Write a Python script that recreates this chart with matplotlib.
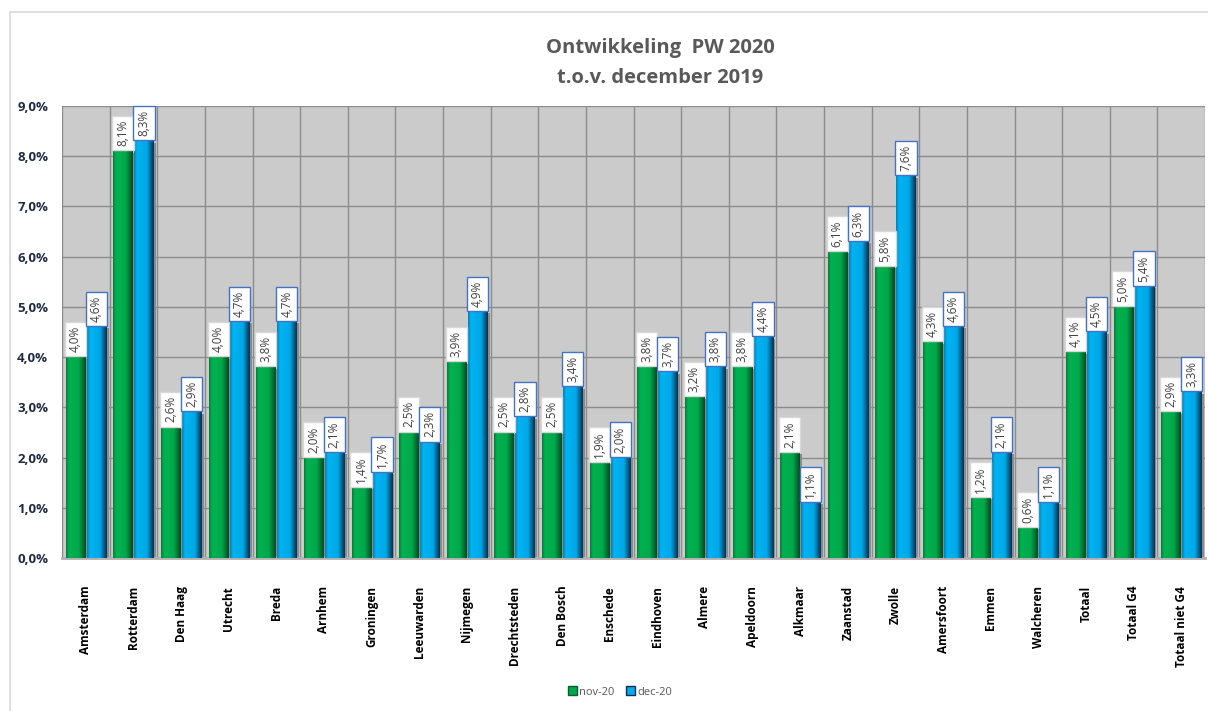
import numpy as np
import matplotlib
matplotlib.use("Agg")
import matplotlib.pyplot as plt
from matplotlib.colors import LinearSegmentedColormap
from matplotlib.patches import Rectangle, Patch

categories = ["Amsterdam", "Rotterdam", "Den Haag", "Utrecht", "Breda", "Arnhem",
              "Groningen", "Leeuwarden", "Nijmegen", "Drechtsteden", "Den Bosch",
              "Enschede", "Eindhoven", "Almere", "Apeldoorn", "Alkmaar", "Zaanstad",
              "Zwolle", "Amersfoort", "Emmen", "Walcheren", "Totaal", "Totaal G4",
              "Totaal niet G4"]
nov20 = [4.0, 8.1, 2.6, 4.0, 3.8, 2.0, 1.4, 2.5, 3.9, 2.5, 2.5, 1.9, 3.8, 3.2,
         3.8, 2.1, 6.1, 5.8, 4.3, 1.2, 0.6, 4.1, 5.0, 2.9]
dec20 = [4.6, 8.3, 2.9, 4.7, 4.7, 2.1, 1.7, 2.3, 4.9, 2.8, 3.4, 2.0, 3.7, 3.8,
         4.4, 1.1, 6.3, 7.6, 4.6, 2.1, 1.1, 4.5, 5.4, 3.3]
yticks = [0, 1, 2, 3, 4, 5, 6, 7, 8, 9]

plt.rcParams['font.family'] = ['Open Sans', 'DejaVu Sans']

green_cm = LinearSegmentedColormap.from_list(
    "g", [(0, "#0a7a3c"), (0.15, "#00b24f"), (0.65, "#00a84a"), (1, "#004a22")])
blue_cm = LinearSegmentedColormap.from_list(
    "b", [(0, "#0a7fb8"), (0.15, "#00b4f2"), (0.65, "#00a8e8"), (1, "#0a3050")])

fig = plt.figure(figsize=(12.08, 7.11), dpi=100)
fig.patches.append(Rectangle((10 / 1208, -0.1), 1.2, 1 - 12 / 711 + 0.1,
                             transform=fig.transFigure, fill=False,
                             edgecolor="#d9d9d9", lw=1.2))
ax = fig.add_axes([62 / 1208, 1 - 558 / 711, 1143 / 1208, 452 / 711])
ax.set_facecolor("#cbcbcb")

n = len(categories)
x = np.arange(n)
w = 0.4
off = 0.22
ax.set_xlim(-0.5, n - 0.5)
ax.set_ylim(0, 9)

grad = np.linspace(0, 1, 64).reshape(1, -1)
for xs, vals, cm, edge in [(x - off, nov20, green_cm, "#d8d8d8"),
                           (x + off, dec20, blue_cm, "#4472c4")]:
    for xi, v in zip(xs, vals):
        # shadow
        ax.add_patch(Rectangle((xi - w / 2 + 0.06, 0), w, v - 0.03,
                               facecolor="#8a8a8a", edgecolor="none", zorder=2))
        ax.imshow(grad, cmap=cm, aspect="auto", zorder=3,
                  extent=(xi - w / 2, xi + w / 2, 0, v))
        ax.text(xi, v + 0.1, f"{v:.1f}%".replace(".", ","), rotation=90,
                ha="center", va="bottom", fontsize=8.5, color="#404040", zorder=5,
                bbox=dict(boxstyle="square,pad=0.35", facecolor="white",
                          edgecolor=edge, lw=1))

for g in yticks[1:]:
    ax.axhline(g, color="#8c8c8c", lw=1, zorder=1)
for b in np.arange(n + 1) - 0.5:
    ax.axvline(b, color="#8c8c8c", lw=1, zorder=1)

ax.set_yticks(yticks)
ax.set_yticklabels([f"{t:.1f}%".replace(".", ",") for t in yticks],
                   fontsize=9.5, fontweight="bold", color="#1f2a44")
ax.set_xticks(x)
ax.set_xticklabels(categories, rotation=90, fontsize=8.5, fontweight="bold",
                   va="top", ha="center")
ax.tick_params(axis="both", length=0)
ax.tick_params(axis="x", pad=20)
ax.tick_params(axis="y", pad=10)
for s in ["top", "right", "left"]:
    ax.spines[s].set_visible(False)
ax.spines["bottom"].set_color("#b0b0b0")
ax.spines["bottom"].set_linewidth(2)

fig.text(660 / 1208, 1 - 48 / 711, "Ontwikkeling  PW 2020", ha="center", va="center",
         fontsize=14.5, fontweight="bold", color="#595959")
fig.text(660 / 1208, 1 - 78 / 711, "t.o.v. december 2019", ha="center", va="center",
         fontsize=14.5, fontweight="bold", color="#595959")

handles = [Patch(facecolor="#00a84a", edgecolor="#006030"),
           Patch(facecolor="#00a8e8", edgecolor="#0a3050")]
fig.legend(handles, ["nov-20", "dec-20"], loc="center", ncol=2,
           bbox_to_anchor=(620 / 1208, 1 - 692 / 711), frameon=False,
           fontsize=8, handlelength=0.8, handleheight=0.8, handletextpad=0.2,
           columnspacing=1.0, labelcolor="#595959")

fig.savefig("out.png", dpi=100)
